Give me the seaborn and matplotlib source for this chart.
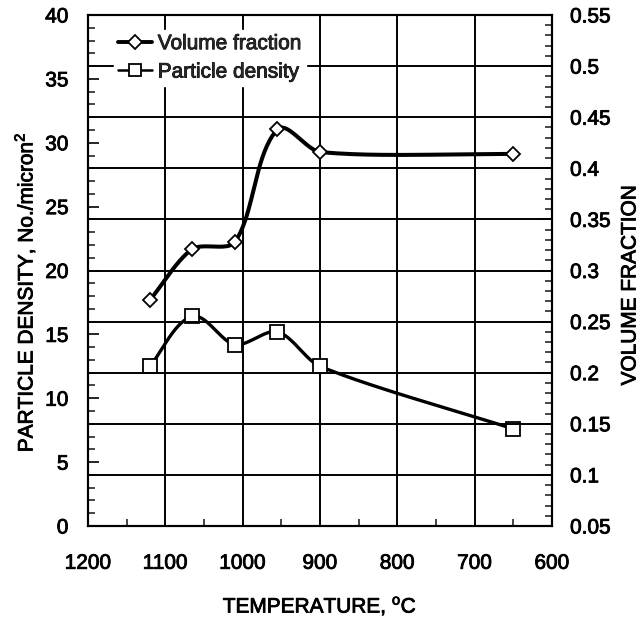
import numpy as np
import pandas as pd
import matplotlib
matplotlib.use("Agg")
import matplotlib.pyplot as plt
import matplotlib.patheffects as pe
from matplotlib.ticker import MultipleLocator
from matplotlib.lines import Line2D
import seaborn as sns

# ---- data ----
temp_vf = [1120, 1065, 1010, 955, 900, 650]
volume_fraction = [0.271, 0.321, 0.328, 0.438, 0.416, 0.414]
temp_pd = [1120, 1065, 1010, 955, 900, 650]
particle_density = [12.5, 16.4, 14.2, 15.2, 12.5, 7.6]

x_label = "TEMPERATURE, $^{\\mathregular{o}}$C"
y_left_label = "PARTICLE DENSITY, No./micron$^{\\mathregular{2}}$"
y_right_label = "VOLUME FRACTION"
series_names = ["Volume fraction", "Particle density"]

sns.set_theme(style="white")
plt.rcParams["font.family"] = ["Liberation Sans", "DejaVu Sans"]
plt.rcParams["mathtext.fontset"] = "custom"
plt.rcParams["mathtext.rm"] = "Liberation Sans"

fig = plt.figure(figsize=(6.42, 6.2), dpi=100)
ax = fig.add_axes([88 / 642, 1 - 526 / 620, (552 - 88) / 642, (526 - 15) / 620])
ax2 = ax.twinx()

XLIM = (1200, 600)
YL = (0, 40)
YR = (0.05, 0.55)
W_PX, H_PX = 464.0, 511.0
FS = 15
BOLDEN = [pe.withStroke(linewidth=0.6, foreground="black")]


def smooth(xs, ys, ylim, n=40, k=0.28):
    """Bezier smoothing in screen space with length-proportional handles (visual curve only)."""
    px = (np.asarray(xs, float) - XLIM[0]) / (XLIM[1] - XLIM[0]) * W_PX
    py = (np.asarray(ys, float) - ylim[0]) / (ylim[1] - ylim[0]) * H_PX
    P = np.column_stack([px, py])
    m = len(P)
    dirs = []
    for i in range(m):
        a = P[max(i - 1, 0)]
        b = P[min(i + 1, m - 1)]
        d = b - a
        dirs.append(d / np.hypot(*d))
    out = []
    for i in range(m - 1):
        p1, p2 = P[i], P[i + 1]
        L = np.hypot(*(p2 - p1))
        c1 = p1 + dirs[i] * L * k
        c2 = p2 - dirs[i + 1] * L * k
        t = np.linspace(0, 1, n)[:, None]
        seg = ((1 - t) ** 3) * p1 + 3 * ((1 - t) ** 2) * t * c1 + 3 * (1 - t) * t ** 2 * c2 + t ** 3 * p2
        out.append(seg if i == 0 else seg[1:])
    S = np.vstack(out)
    sx = XLIM[0] + S[:, 0] / W_PX * (XLIM[1] - XLIM[0])
    sy = ylim[0] + S[:, 1] / H_PX * (ylim[1] - ylim[0])
    return sx, sy


# particle density on left axis
sx, sy = smooth(temp_pd, particle_density, YL)
sns.lineplot(x=sx, y=sy, ax=ax, color="black", lw=2.4, sort=False, estimator=None, zorder=3)
ax.plot(temp_pd, particle_density, ls="none", marker="s", ms=10, mfc="white",
        mec="black", mew=1.3, zorder=4)

# volume fraction on right axis
sx, sy = smooth(temp_vf, volume_fraction, YR)
sns.lineplot(x=sx, y=sy, ax=ax2, color="black", lw=2.9, sort=False, estimator=None, zorder=3)
ax2.plot(temp_vf, volume_fraction, ls="none", marker="D", ms=7, mfc="white",
         mec="black", mew=1.3, zorder=4)

ax.set_xlim(*XLIM)
ax.set_ylim(*YL)
ax2.set_ylim(*YR)

ax.xaxis.set_major_locator(MultipleLocator(100))
ax.xaxis.set_minor_locator(MultipleLocator(50))
ax.yaxis.set_major_locator(MultipleLocator(5))
ax.yaxis.set_minor_locator(MultipleLocator(1))
ax2.yaxis.set_minor_locator(MultipleLocator(0.01))
rt = np.round(np.arange(0.05, 0.551, 0.05), 2)
ax2.set_yticks(rt)
ax2.set_yticklabels([f"{v:g}" for v in rt])

ax.grid(False)
ax2.grid(False)
ax.xaxis.grid(True, color="black", lw=1.4)
ax2.yaxis.grid(True, color="black", lw=1.4)
ax.set_axisbelow(True)

ax.tick_params(axis="x", which="major", direction="in", length=7, width=1.2, labelsize=FS, pad=20, colors="black")
ax.tick_params(axis="x", which="minor", direction="in", length=5, width=1.2, bottom=True)
ax.tick_params(axis="y", which="major", direction="in", length=8, width=1.2, labelsize=FS, pad=14, colors="black", left=True)
ax.tick_params(axis="y", which="minor", direction="in", length=5, width=1.2, left=True)
ax2.tick_params(axis="y", which="major", direction="in", length=8, width=1.2, labelsize=FS, pad=13, colors="black", right=True)
ax2.tick_params(axis="y", which="minor", direction="in", length=5, width=1.2, right=True)

for a in (ax, ax2):
    for s in a.spines.values():
        s.set_visible(True)
        s.set_color("black")
        s.set_linewidth(1.5)

ax.set_xlabel(x_label, fontsize=FS, color="black", va="center")
ax.xaxis.set_label_coords(0.5, (526 - 606) / 511)
ax.set_ylabel(y_left_label, fontsize=FS, color="black", va="center")
ax.yaxis.set_label_coords((25 - 88) / 464, (526 - 292) / 511)
ax2.set_ylabel(y_right_label, fontsize=FS, color="black", va="center", rotation=90)
ax2.yaxis.set_label_coords((630 - 88) / 464, (526 - 285) / 511)

handles = [
    Line2D([], [], color="black", lw=2.8, marker="D", ms=7, mfc="white", mec="black", mew=1.3),
    Line2D([], [], color="black", lw=1.8, marker="s", ms=9, mfc="white", mec="black", mew=1.3),
]
leg = ax2.legend(handles, series_names, loc="upper left", bbox_to_anchor=(114 / 642, 1 - 30 / 620),
                 bbox_transform=fig.transFigure, frameon=True, fontsize=FS, handlelength=1.6,
                 handletextpad=0.3, labelspacing=0.45, borderpad=0.2, borderaxespad=0)
leg.get_frame().set_facecolor("white")
leg.get_frame().set_edgecolor("white")
leg.get_frame().set_alpha(1)
leg.set_zorder(10)

texts = ax.get_xticklabels() + ax.get_yticklabels() + ax2.get_yticklabels() + \
    [ax.xaxis.label, ax.yaxis.label, ax2.yaxis.label] + leg.get_texts()
for t in texts:
    t.set_path_effects(BOLDEN)

fig.savefig("out.png", dpi=100, facecolor="white")
